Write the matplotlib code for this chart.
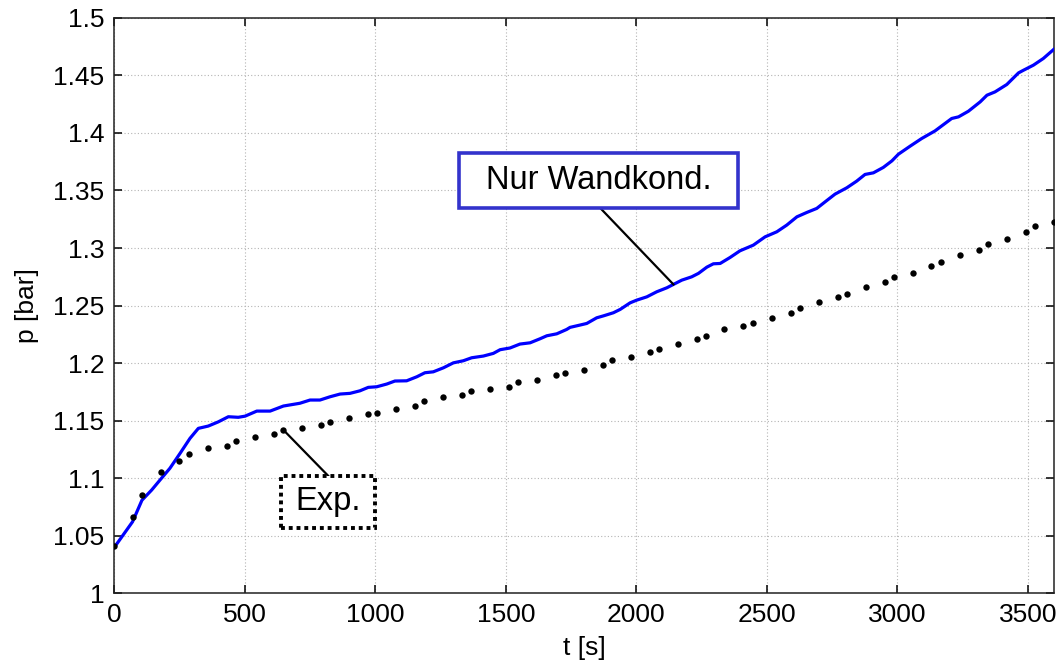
import numpy as np
import matplotlib
matplotlib.use("Agg")
import matplotlib.pyplot as plt
from matplotlib.patches import Rectangle
from matplotlib.ticker import FuncFormatter, MultipleLocator

plt.rcParams['font.family'] = ['Liberation Sans', 'DejaVu Sans']

# simulation: wall condensation only
t_sim = [0, 70, 106, 143, 175, 213, 252, 290, 322, 360, 398, 437, 475, 501, 546, 597,
         648, 711, 750, 788, 826, 865, 903, 941, 973, 1005, 1044, 1075, 1120, 1159, 1190,
         1222, 1261, 1299, 1337, 1369, 1414, 1452, 1478, 1516, 1554, 1593, 1631, 1657,
         1695, 1733, 1746, 1784, 1810, 1848, 1874, 1912, 1938, 1976, 2002, 2040, 2078,
         2117, 2142, 2174, 2212, 2238, 2270, 2295, 2321, 2359, 2397, 2448, 2493, 2538,
         2576, 2615, 2653, 2691, 2723, 2761, 2806, 2844, 2876, 2908, 2946, 2979, 3004,
         3049, 3093, 3144, 3208, 3234, 3272, 3317, 3343, 3374, 3419, 3464, 3483, 3521,
         3559, 3600]
p_sim = [1.040, 1.0623, 1.081, 1.0898, 1.0985, 1.1087, 1.1217, 1.1347, 1.1434, 1.1454,
         1.149, 1.1535, 1.153, 1.154, 1.1584, 1.1584, 1.1628, 1.1652, 1.168, 1.168, 1.1708,
         1.1732, 1.1738, 1.176, 1.179, 1.1795, 1.1819, 1.1845, 1.1847, 1.1882, 1.1917,
         1.1925, 1.196, 1.2003, 1.2021, 1.2047, 1.2062, 1.2085, 1.2117, 1.2132, 1.2166,
         1.2177, 1.2212, 1.2238, 1.2255, 1.2293, 1.2311, 1.2331, 1.2345, 1.2394, 1.2411,
         1.2438, 1.2467, 1.2524, 1.2548, 1.2576, 1.262, 1.2655, 1.2684, 1.2721, 1.275,
         1.278, 1.2834, 1.2863, 1.2866, 1.2918, 1.2976, 1.3025, 1.3097, 1.3141, 1.3199,
         1.3271, 1.3309, 1.3344, 1.3401, 1.3468, 1.3523, 1.3581, 1.3639, 1.3653, 1.370,
         1.3757, 1.3815, 1.3885, 1.3951, 1.4017, 1.4125, 1.4139, 1.4188, 1.4269, 1.4327,
         1.4356, 1.442, 1.4521, 1.4544, 1.4588, 1.4646, 1.4727]

# experiment
t_exp = [0, 70, 106, 178, 249, 286, 358, 431, 467, 540, 612, 648, 719, 791, 826, 898,
         971, 1006, 1079, 1151, 1187, 1259, 1331, 1368, 1439, 1511, 1547, 1618, 1691,
         1727, 1798, 1871, 1908, 1980, 2052, 2088, 2161, 2231, 2267, 2337, 2410, 2446,
         2519, 2592, 2627, 2699, 2772, 2807, 2880, 2952, 2987, 3058, 3130, 3167, 3239,
         3311, 3347, 3419, 3492, 3528, 3599]
p_exp = [1.0415, 1.066, 1.0855, 1.1055, 1.115, 1.121, 1.1266, 1.128, 1.132, 1.1356,
         1.1385, 1.142, 1.1437, 1.146, 1.149, 1.1523, 1.156, 1.1564, 1.1604, 1.1625,
         1.1674, 1.1703, 1.1726, 1.1755, 1.1773, 1.1797, 1.1836, 1.1856, 1.1897, 1.1914,
         1.1943, 1.1984, 1.2027, 1.2056, 1.2096, 1.2125, 1.2166, 1.2207, 1.2235, 1.2293,
         1.232, 1.2348, 1.2394, 1.2435, 1.2476, 1.2528, 1.2574, 1.2597, 1.2658, 1.2704,
         1.2745, 1.2785, 1.2843, 1.2878, 1.2936, 1.2979, 1.3037, 1.3077, 1.3135, 1.3187,
         1.3222]

fig = plt.figure(figsize=(10.62, 6.71), dpi=100)
ax = fig.add_axes([0.1076, 0.1155, 0.8849, 0.8581])

ax.plot(t_sim, p_sim, color='#0000ff', lw=2.3, zorder=3)
ax.plot(t_exp, p_exp, 'o', color='black', ms=4.6, mew=0, zorder=3)

ax.set_xlim(0, 3600)
ax.set_ylim(1.0, 1.5)
ax.xaxis.set_major_locator(MultipleLocator(500))
ax.yaxis.set_major_locator(MultipleLocator(0.05))
ax.yaxis.set_major_formatter(FuncFormatter(lambda v, _: '%g' % round(v, 3)))

ax.grid(True, linestyle=(0, (1, 2)), color='#b4b4b4', lw=0.8)
ax.tick_params(direction='in', top=True, right=True, length=6, width=1.1,
               labelsize=19, pad=7)
for s in ax.spines.values():
    s.set_linewidth(1.1)
    s.set_color('#222222')

ax.set_xlabel('t [s]', fontsize=19, labelpad=6)
ax.set_ylabel('p [bar]', fontsize=19, labelpad=10)

# label boxes
ax.plot([1861, 2142], [1.3349, 1.2684], color='black', lw=1.6, zorder=4)
ax.add_patch(Rectangle((1321, 1.3349), 1067, 0.0472, facecolor='white',
                       edgecolor='#3333cc', lw=2.6, zorder=5))
ax.text(1855, 1.3585, 'Nur Wandkond.', fontsize=23.5, ha='center', va='center',
        zorder=6)

ax.plot([819, 648], [1.1023, 1.142], color='black', lw=1.6, zorder=4)
ax.add_patch(Rectangle((639, 1.0571), 360, 0.0452, facecolor='white',
                       edgecolor='black', lw=2.8, linestyle=(0, (1, 1)), zorder=5))
ax.text(819, 1.0797, 'Exp.', fontsize=23.5, ha='center', va='center', zorder=6)

fig.savefig('out.png', dpi=100)
